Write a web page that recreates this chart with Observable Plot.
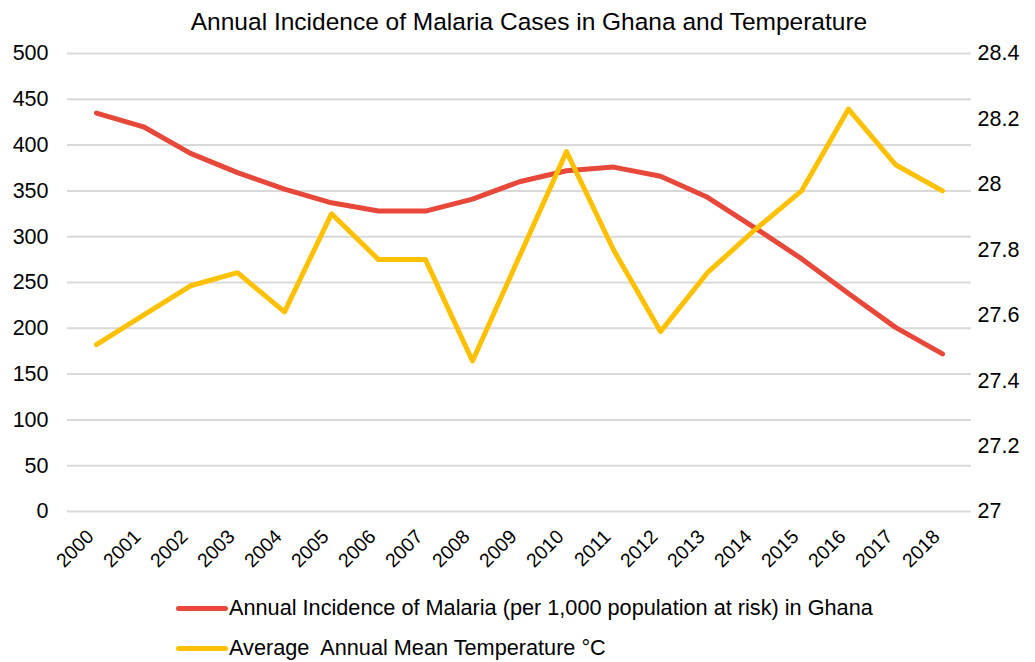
<!DOCTYPE html>
<html><head><meta charset="utf-8">
<script src="https://cdn.jsdelivr.net/npm/d3@7"></script>
<script src="https://cdn.jsdelivr.net/npm/@observablehq/plot@0.6"></script>
<style>
body{margin:0;background:#fff;font-family:"Liberation Sans",Arial,sans-serif;color:#000;}
#wrap{position:relative;width:1035px;height:662px;overflow:hidden;}
#chart{position:absolute;left:0;top:0;}
#title{position:absolute;top:8px;left:0;width:1058px;text-align:center;font-size:24.5px;line-height:28px;}
.leg{position:absolute;left:176px;height:26px;display:flex;align-items:center;font-size:21.7px;white-space:pre;}
.sw{width:52px;height:5px;border-radius:3px;margin-right:1px;}
</style>
</head><body>
<div id="wrap">
  <div id="chart"></div>
  <div id="title"></div>
  <div id="legend"></div>
</div>
<script>
const title = "Annual Incidence of Malaria Cases in Ghana and Temperature";
const years = ["2000","2001","2002","2003","2004","2005","2006","2007","2008","2009","2010","2011","2012","2013","2014","2015","2016","2017","2018"];
const malaria = [435, 420, 391, 370, 352, 337, 328, 328, 341, 360, 372, 376, 366, 343, 310, 276, 238, 201, 172];
const temperature = [27.51, 27.60, 27.69, 27.73, 27.61, 27.91, 27.77, 27.77, 27.46, 27.78, 28.10, 27.80, 27.55, 27.73, 27.86, 27.98, 28.23, 28.06, 27.98];
const leftTicks = [0, 50, 100, 150, 200, 250, 300, 350, 400, 450, 500];
const rightTicks = [27, 27.2, 27.4, 27.6, 27.8, 28, 28.2, 28.4];
const seriesNames = ["Annual Incidence of Malaria (per 1,000 population at risk) in Ghana", "Average  Annual Mean Temperature °C"];
const colors = ["#e8483a", "#ffc000"];

const leftDomain = [0, 500];
const rightDomain = [27, 28.4];
const toLeft = t => (t - rightDomain[0]) / (rightDomain[1] - rightDomain[0]) * (leftDomain[1] - leftDomain[0]) + leftDomain[0];
const fromLeft = v => rightDomain[0] + (v - leftDomain[0]) / (leftDomain[1] - leftDomain[0]) * (rightDomain[1] - rightDomain[0]);

const rows = years.map((y, i) => ({year: y, malaria: malaria[i], temp: temperature[i]}));

const chart = Plot.plot({
  width: 1035,
  height: 590,
  marginLeft: 67,
  marginRight: 64,
  marginTop: 53,
  marginBottom: 79,
  style: {fontFamily: '"Liberation Sans", Arial, sans-serif', fontSize: "21px", color: "#000", background: "transparent", overflow: "visible"},
  x: {type: "point", domain: years, padding: 0.5, label: null},
  y: {domain: leftDomain, label: null},
  marks: [
    Plot.gridY({ticks: leftTicks, stroke: "#d9d9d9", strokeOpacity: 1, strokeWidth: 2}),
    Plot.axisY({ticks: leftTicks, tickSize: 0, tickPadding: 19, label: null, fontSize: 21.5}),
    Plot.axisY({anchor: "right", ticks: rightTicks.map(toLeft), tickFormat: d => String(+fromLeft(d).toFixed(1)), tickSize: 0, tickPadding: 6, label: null, fontSize: 21.5}),
    Plot.axisX({tickRotate: -45, tickSize: 0, tickPadding: 14, dx: -6, dy: 8, label: null, fontSize: 19.5}),
    Plot.line(rows, {x: "year", y: "malaria", stroke: colors[0], strokeWidth: 5, strokeLinecap: "round", strokeLinejoin: "round"}),
    Plot.line(rows, {x: "year", y: d => toLeft(d.temp), stroke: colors[1], strokeWidth: 5, strokeLinecap: "round", strokeLinejoin: "round"})
  ]
});
document.getElementById("chart").appendChild(chart);
document.getElementById("title").textContent = title;

const legend = document.getElementById("legend");
seriesNames.forEach((name, i) => {
  const row = document.createElement("div");
  row.className = "leg";
  row.style.top = (595 + i * 40) + "px";
  const sw = document.createElement("div");
  sw.className = "sw";
  sw.style.background = colors[i];
  const tx = document.createElement("span");
  tx.textContent = name;
  row.appendChild(sw);
  row.appendChild(tx);
  legend.appendChild(row);
});
</script>
</body></html>
